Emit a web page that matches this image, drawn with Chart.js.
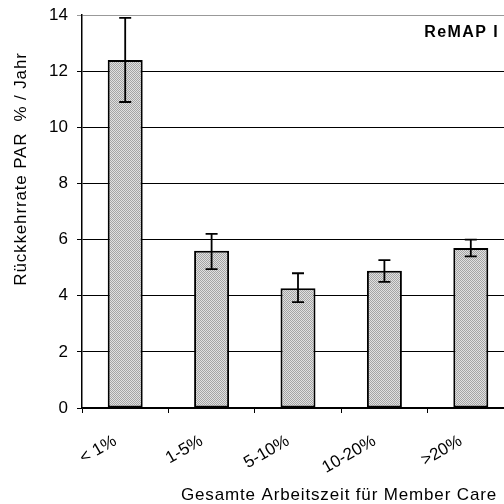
<!DOCTYPE html>
<html>
<head>
<meta charset="utf-8">
<script src="https://cdn.jsdelivr.net/npm/chart.js@4.4.0/dist/chart.umd.min.js"></script>
<style>
    html, body { margin: 0; padding: 0; background: #fff; overflow: hidden; }
    #wrap { width: 504px; height: 504px; overflow: hidden; position: relative; }
    #chart { position: absolute; left: 0; top: 0; }
</style>
</head>
<body>
<div id="wrap"><canvas id="chart" width="514" height="504"></canvas></div>
<script>
// Data
const categories = ['< 1%', '1-5%', '5-10%', '10-20%', '>20%'];
const rates = [12.4, 5.6, 4.27, 4.89, 5.7];
const errHigh = [13.9, 6.2, 4.8, 5.27, 6.0];
const errLow = [10.9, 4.95, 3.77, 4.49, 5.4];
const yTicks = [0, 2, 4, 6, 8, 10, 12, 14];

const FONT = '"Liberation Sans", Arial, sans-serif';

// Dotted grey fill like the original print pattern
function makePattern() {
    const p = document.createElement('canvas');
    p.width = 2;
    p.height = 2;
    const c = p.getContext('2d');
    c.fillStyle = '#e0e0e0';
    c.fillRect(0, 0, 2, 2);
    c.fillStyle = '#a4a4a4';
    c.fillRect(0, 0, 1, 1);
    c.fillRect(1, 1, 1, 1);
    return c.createPattern(p, 'repeat');
}

// Error bars and the extra texts
const extras = {
    id: 'extras',
    afterDatasetsDraw(chart) {
        const ctx = chart.ctx;
        const x = chart.scales.x;
        const y = chart.scales.y;
        ctx.save();
        ctx.strokeStyle = '#000';
        ctx.lineWidth = 1.8;
        categories.forEach((cat, i) => {
            const cx = x.getPixelForValue(i);
            const top = y.getPixelForValue(errHigh[i]);
            const bot = y.getPixelForValue(errLow[i]);
            ctx.beginPath();
            ctx.moveTo(cx, top);
            ctx.lineTo(cx, bot);
            ctx.moveTo(cx - 6, top);
            ctx.lineTo(cx + 6, top);
            ctx.moveTo(cx - 6, bot);
            ctx.lineTo(cx + 6, bot);
            ctx.stroke();
        });

        ctx.fillStyle = '#000';
        ctx.textBaseline = 'middle';

        ctx.font = 'bold 16px ' + FONT;
        ctx.letterSpacing = '1.4px';
        ctx.textAlign = 'right';
        ctx.fillText('ReMAP I', 499, 33);

        ctx.font = '17px ' + FONT;
        ctx.letterSpacing = '0.85px';
        ctx.textAlign = 'center';
        ctx.fillText('Gesamte Arbeitszeit für Member Care', 339, 495);

        ctx.translate(21, 169);
        ctx.rotate(-Math.PI / 2);
        ctx.fillText('Rückkehrrate PAR  % / Jahr', 0, 0);
        ctx.restore();
    }
};

new Chart(document.getElementById('chart'), {
    type: 'bar',
    data: {
        labels: categories,
        datasets: [{
            data: rates,
            backgroundColor: makePattern(),
            borderColor: '#000',
            borderWidth: 2,
            borderSkipped: false,
            barPercentage: 0.9,
            categoryPercentage: 0.45
        }]
    },
    options: {
        responsive: false,
        animation: false,
        layout: { padding: { top: 15, right: 0, left: 0, bottom: 0 } },
        plugins: {
            legend: { display: false },
            tooltip: { enabled: false }
        },
        scales: {
            x: {
                afterFit: s => { s.height = 96; },
                border: { color: '#000', width: 1.5 },
                grid: {
                    display: true,
                    drawOnChartArea: false,
                    drawTicks: true,
                    tickLength: 5,
                    color: '#000',
                    lineWidth: 1
                },
                ticks: {
                    color: '#000',
                    font: { family: FONT, size: 17 },
                    minRotation: 30,
                    maxRotation: 30,
                    padding: 18,
                    labelOffset: -10
                }
            },
            y: {
                min: 0,
                max: 14,
                afterFit: s => { s.width = 82; s.paddingTop = 0; s.paddingBottom = 0; },
                afterBuildTicks: s => { s.ticks = yTicks.map(v => ({ value: v })); },
                border: { color: '#000', width: 1.5 },
                grid: {
                    color: ctx => ctx.tick && ctx.tick.value === 14 ? '#999' : '#000',
                    lineWidth: 1,
                    tickLength: 5
                },
                ticks: {
                    color: '#000',
                    font: { family: FONT, size: 17 },
                    padding: 9
                }
            }
        }
    },
    plugins: [extras]
});
</script>
</body>
</html>
